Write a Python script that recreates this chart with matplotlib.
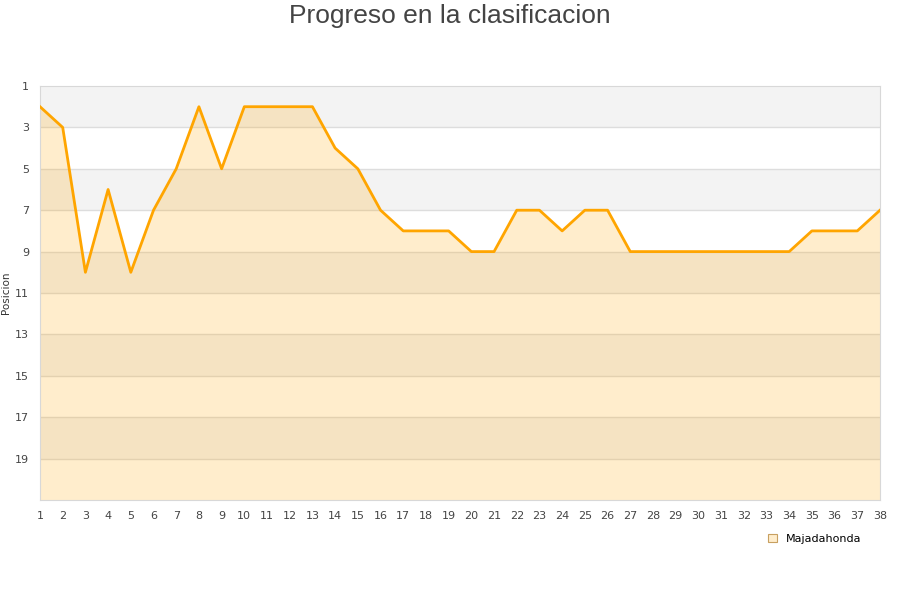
import matplotlib
matplotlib.use("Agg")
import matplotlib.pyplot as plt
from matplotlib.patches import Patch

# jornadas y posicion del equipo
jornadas = list(range(1, 39))
posiciones = [2, 3, 10, 6, 10, 7, 5, 2, 5, 2, 2, 2, 2, 4, 5, 7, 8, 8, 8, 9,
              9, 7, 7, 8, 7, 7, 9, 9, 9, 9, 9, 9, 9, 9, 8, 8, 8, 7]
equipo = "Majadahonda"
yticks = list(range(1, 20, 2))

fig = plt.figure(figsize=(9, 6), dpi=100)
ax = fig.add_axes([40/900, 1 - 500/600, 840/900, 414/600])

# bandas alternas gris / blanco cada 2 posiciones
for i, y0 in enumerate(range(1, 21, 2)):
    if i % 2 == 0:
        ax.axhspan(y0, y0 + 2, color="#f3f3f3", zorder=0, lw=0)
for y in yticks[1:]:
    ax.axhline(y, color="#dddddd", lw=1, zorder=1)

ax.fill_between(jornadas, posiciones, 21, color="orange", alpha=0.2, lw=0, zorder=2)
ax.plot(jornadas, posiciones, color="orange", lw=2, zorder=3)

ax.set_xlim(1, 38)
ax.set_ylim(21, 1)
ax.set_xticks(jornadas)
ax.set_yticks(yticks)
ax.tick_params(length=0, labelsize=8, colors="#444444", pad=8)
for s in ax.spines.values():
    s.set_color("#d8d8d8")
ax.set_ylabel("Posicion", fontsize=7.5, color="#333333")
ax.yaxis.set_label_coords(-0.035, 0.5)

fig.text(0.5, 0.993, "Progreso en la clasificacion", ha="center", va="top",
         fontsize=19, color="#444444", family="Liberation Sans")

handle = Patch(facecolor="#ffedcc", edgecolor="#c8a060", lw=0.8)
fig.legend([handle], [equipo], loc="center", bbox_to_anchor=(815/900, 1 - 539/600),
           frameon=False, fontsize=8, handlelength=0.8, handleheight=0.8)

fig.savefig("out.png")
